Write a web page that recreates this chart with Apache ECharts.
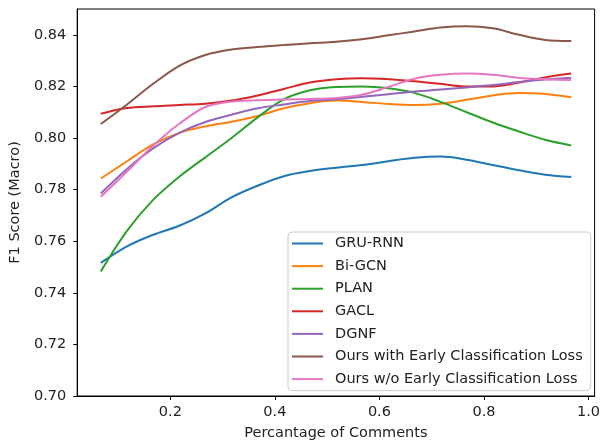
<!DOCTYPE html>
<html>
<head>
<meta charset="utf-8">
<script src="https://cdn.jsdelivr.net/npm/echarts@6/dist/echarts.min.js"></script>
<style>
  html, body { margin: 0; padding: 0; background: #fff; }
  #chart { width: 603px; height: 446px; }
</style>
</head>
<body>
<div id="chart"></div>
<script>
// 评论比例
const xs = [0.067, 0.117, 0.167, 0.217, 0.267, 0.317, 0.367, 0.417, 0.467, 0.517,
  0.567, 0.617, 0.667, 0.717, 0.767, 0.817, 0.867, 0.917, 0.967]

const gruRnn = [0.7516, 0.7580, 0.7625, 0.7660, 0.7708, 0.7770, 0.7815, 0.7852, 0.7872, 0.7885,
  0.7895, 0.7910, 0.7923, 0.7928, 0.7916, 0.7895, 0.7875, 0.7858, 0.7849]
const biGcn = [0.7843, 0.7910, 0.7975, 0.8020, 0.8045, 0.8063, 0.8085, 0.8115, 0.8135, 0.8145,
  0.8140, 0.8132, 0.8128, 0.8133, 0.8148, 0.8165, 0.8174, 0.8171, 0.8158]
const plan = [0.7483, 0.7640, 0.7760, 0.7850, 0.7925, 0.8000, 0.8080, 0.8150, 0.8185, 0.8198,
  0.8200, 0.8193, 0.8175, 0.8140, 0.8100, 0.8060, 0.8025, 0.7993, 0.7971]
const gacl = [0.8094, 0.8116, 0.8123, 0.8128, 0.8133, 0.8145, 0.8165, 0.8190, 0.8215, 0.8228,
  0.8232, 0.8228, 0.8220, 0.8210, 0.8200, 0.8200, 0.8215, 0.8235, 0.8250]
const dgnf = [0.7785, 0.7880, 0.7960, 0.8020, 0.8062, 0.8090, 0.8115, 0.8130, 0.8143, 0.8150,
  0.8160, 0.8170, 0.8180, 0.8188, 0.8196, 0.8205, 0.8217, 0.8227, 0.8234]
const oursWith = [0.8054, 0.8130, 0.8210, 0.8280, 0.8322, 0.8343, 0.8353, 0.8360, 0.8367, 0.8373,
  0.8383, 0.8398, 0.8413, 0.8428, 0.8433, 0.8425, 0.8400, 0.8380, 0.8376]
const oursWo = [0.7772, 0.7870, 0.7970, 0.8055, 0.8120, 0.8141, 0.8146, 0.8149, 0.8151, 0.8155,
  0.8168, 0.8198, 0.8230, 0.8245, 0.8250, 0.8245, 0.8233, 0.8228, 0.8225]

const xTicks = [0.2, 0.4, 0.6, 0.8, 1.0]
const yTicks = [0.70, 0.72, 0.74, 0.76, 0.78, 0.80, 0.82, 0.84]

const seriesList = [
  { name: 'GRU-RNN', values: gruRnn, color: '#1f77b4' },
  { name: 'Bi-GCN', values: biGcn, color: '#ff7f0e' },
  { name: 'PLAN', values: plan, color: '#2ca02c' },
  { name: 'GACL', values: gacl, color: '#d62728' },
  { name: 'DGNF', values: dgnf, color: '#9467bd' },
  { name: 'Ours with Early Classification Loss', values: oursWith, color: '#8c564b' },
  { name: 'Ours w/o Early Classification Loss', values: oursWo, color: '#e377c2' }
]

const font = 'DejaVu Sans'
const fontSize = 14.5

const series = seriesList.map(s => ({
  name: s.name,
  type: 'line',
  smooth: 0.35,
  symbol: 'none',
  data: xs.map((x, i) => [x, s.values[i]]),
  itemStyle: { color: s.color },
  lineStyle: { color: s.color, width: 2 } // 线宽
}))

const myChart = echarts.init(document.getElementById('chart'), null, { renderer: 'canvas' })
myChart.setOption({
  animation: false,
  grid: {
    left: 76,
    right: 6,
    top: 9,
    bottom: 49,
    show: true,
    borderColor: '#000',
    borderWidth: 1
  },
  xAxis: {
    type: 'value',
    min: 0.0217,
    max: 1.0117,
    name: 'Percantage of Comments',
    nameLocation: 'middle',
    nameGap: 30,
    nameTextStyle: { color: '#222', fontFamily: font, fontSize },
    axisLine: { show: true, onZero: false, lineStyle: { color: '#000', width: 1 } },
    axisTick: { show: true, length: 4, customValues: xTicks, lineStyle: { color: '#000' } },
    axisLabel: {
      customValues: xTicks,
      margin: 9,
      color: '#222',
      fontFamily: font,
      fontSize,
      formatter: v => v.toFixed(1)
    },
    splitLine: { show: false }
  },
  yAxis: {
    type: 'value',
    min: 0.70,
    max: 0.85,
    name: 'F1 Score (Macro)',
    nameLocation: 'middle',
    nameGap: 50,
    nameTextStyle: { color: '#222', fontFamily: font, fontSize },
    axisLine: { show: true, lineStyle: { color: '#000', width: 1 } },
    axisTick: { show: true, length: 4, customValues: yTicks, lineStyle: { color: '#000' } },
    axisLabel: {
      customValues: yTicks,
      margin: 11,
      color: '#222',
      fontFamily: font,
      fontSize,
      formatter: v => v.toFixed(2)
    },
    splitLine: { show: false }
  },
  legend: {
    orient: 'vertical',
    left: 288,
    top: 232,
    padding: [4, 8, 4, 4],
    icon: 'path://M0,0 L31,0 L31,2 L0,2 Z',
    itemWidth: 31,
    itemHeight: 14,
    itemGap: 7.6,
    backgroundColor: 'rgba(255,255,255,0.8)',
    borderColor: '#cccccc',
    borderWidth: 1,
    borderRadius: 4,
    textStyle: { color: '#222', fontFamily: font, fontSize, padding: [0, 0, 0, 7] },
    data: seriesList.map(s => s.name)
  },
  series
})
</script>
</body>
</html>
